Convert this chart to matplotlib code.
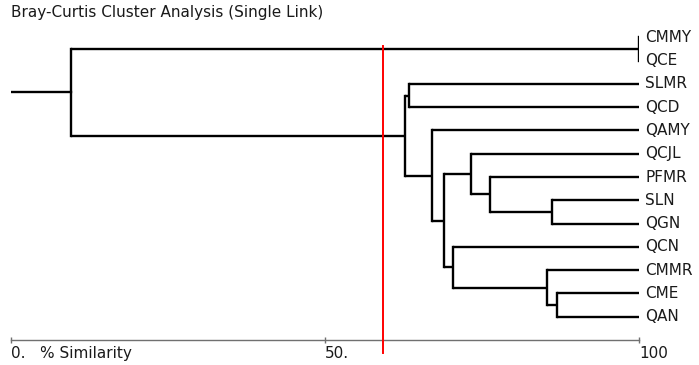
#!/usr/bin/env python3
import matplotlib
matplotlib.use('Agg')
import matplotlib.pyplot as plt

# Foglie dall'alto verso il basso
leaves = ['CMMY', 'QCE', 'SLMR', 'QCD', 'QAMY', 'QCJL', 'PFMR',
          'SLN', 'QGN', 'QCN', 'CMMR', 'CME', 'QAN']

# Fusioni (single link): nome cluster, figlio sinistro, figlio destro, % similarita'
merge_names = ['c0', 'c1', 'c2', 'c3', 'c4', 'c5', 'c6', 'c7', 'c8', 'c9', 'c10', 'c11']
merge_left = ['CMMY', 'SLN', 'CME', 'CMMR', 'PFMR', 'QCJL', 'QCN', 'c5', 'QAMY', 'SLMR', 'c9', 'c0']
merge_right = ['QCE', 'QGN', 'QAN', 'c2', 'c1', 'c4', 'c3', 'c6', 'c7', 'QCD', 'c8', 'c10']
merge_sim = [100.0, 86.1, 86.9, 85.3, 76.3, 73.2, 70.4, 69.0, 67.0, 63.4, 62.7, 9.6]

cut_level = 59.2
xticks = [0, 50, 100]
xtick_labels = ['0.', '50.', '100']

plt.rcParams['font.family'] = ['DejaVu Sans']
fs = 11
txt_color = '#1a1a1a'

fig = plt.figure(figsize=(6.99, 3.65), dpi=100)
ax = fig.add_axes([11 / 699, 25 / 365, 628 / 699, 326 / 365])

n = len(leaves)
ypos = {name: n - i for i, name in enumerate(leaves)}
xpos = {name: 100.0 for name in leaves}

lw = 1.7
for name, a, b, s in zip(merge_names, merge_left, merge_right, merge_sim):
    ya, yb = ypos[a], ypos[b]
    ax.plot([s, s], [ya, yb], color='black', linewidth=lw, solid_capstyle='projecting')
    ax.plot([s, xpos[a]], [ya, ya], color='black', linewidth=lw, solid_capstyle='butt')
    ax.plot([s, xpos[b]], [yb, yb], color='black', linewidth=lw, solid_capstyle='butt')
    ypos[name] = (ya + yb) / 2
    xpos[name] = s

root = merge_names[-1]
ax.plot([0, xpos[root]], [ypos[root], ypos[root]], color='black', linewidth=lw)

# linea di taglio
ax.plot([cut_level, cut_level], [-0.56, 12.64], color='#ff0000', linewidth=1.4, clip_on=False, zorder=5)

for name in leaves:
    ax.text(101.0, ypos[name], name, fontsize=fs, va='center', ha='left', color=txt_color)

ax.set_xlim(0, 100)
ax.set_ylim(0, 14)
for side in ['top', 'right', 'left']:
    ax.spines[side].set_visible(False)
ax.spines['bottom'].set_color('#707070')
ax.spines['bottom'].set_linewidth(1.0)
ax.set_yticks([])
ax.set_xticks(xticks)
ax.set_xticklabels(xtick_labels, fontsize=fs, color=txt_color)
for lab in ax.get_xticklabels():
    lab.set_horizontalalignment('left')
ax.tick_params(axis='x', direction='inout', length=4, width=1, color='#707070', pad=2)

ax.text(4.6, -0.56, '% Similarity', fontsize=fs, va='center', ha='left', color=txt_color)
fig.text(11 / 699, 1 - 13 / 365, 'Bray-Curtis Cluster Analysis (Single Link)',
         fontsize=fs, va='center', ha='left', color=txt_color)

fig.savefig('out.png', dpi=100)
